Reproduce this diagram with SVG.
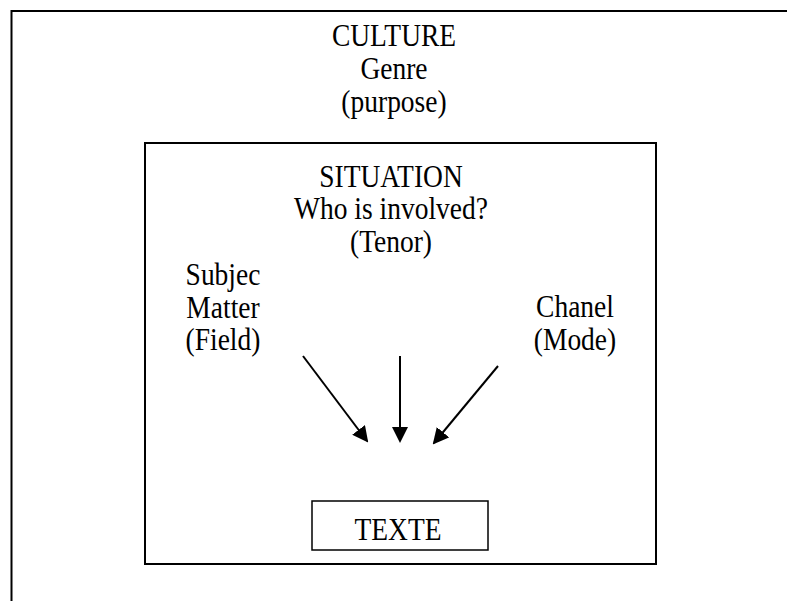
<svg xmlns="http://www.w3.org/2000/svg" width="787" height="601" viewBox="0 0 787 601">
<style>
text{font-family:"Liberation Serif","Times New Roman",serif;font-size:27.5px;fill:#000;text-anchor:middle}
.box{fill:none;stroke:#000;stroke-width:2}
.arr{stroke:#000;stroke-width:2;fill:none;marker-end:url(#ah)}
</style>
<defs>
<marker id="ah" markerWidth="8" markerHeight="8" refX="7" refY="4" orient="auto" markerUnits="strokeWidth">
<path d="M0,0 L8,4 L0,8 z" fill="#000"/>
</marker>
</defs>
<g id="culture">
<rect class="box" x="11.5" y="11" width="800" height="620"/>
<text transform="translate(394,46) scale(1,1.12)">CULTURE</text>
<text transform="translate(394,79) scale(1,1.12)">Genre</text>
<text transform="translate(394,112) scale(1,1.12)">(purpose)</text>
</g>
<g id="situation">
<rect class="box" x="145" y="143" width="511" height="421"/>
<text transform="translate(391,187) scale(1,1.12)">SITUATION</text>
<text transform="translate(391,219) scale(1,1.12)">Who is involved?</text>
<text transform="translate(391,252) scale(1,1.12)">(Tenor)</text>
</g>
<g id="field">
<text transform="translate(223,285) scale(1,1.12)">Subjec</text>
<text transform="translate(223,318) scale(1,1.12)">Matter</text>
<text transform="translate(223,350) scale(1,1.12)">(Field)</text>
</g>
<g id="mode">
<text transform="translate(575,317) scale(1,1.12)">Chanel</text>
<text transform="translate(575,350) scale(1,1.12)">(Mode)</text>
</g>
<g id="texte">
<rect x="312" y="501" width="176" height="49" fill="none" stroke="#000" stroke-width="1.5"/>
<text transform="translate(398,540) scale(1,1.12)">TEXTE</text>
</g>
<g id="connectors">
<line class="arr" x1="303" y1="356" x2="367" y2="441"/>
<line class="arr" x1="400" y1="356" x2="400" y2="441"/>
<line class="arr" x1="498" y1="366" x2="434" y2="443"/>
</g>
</svg>
